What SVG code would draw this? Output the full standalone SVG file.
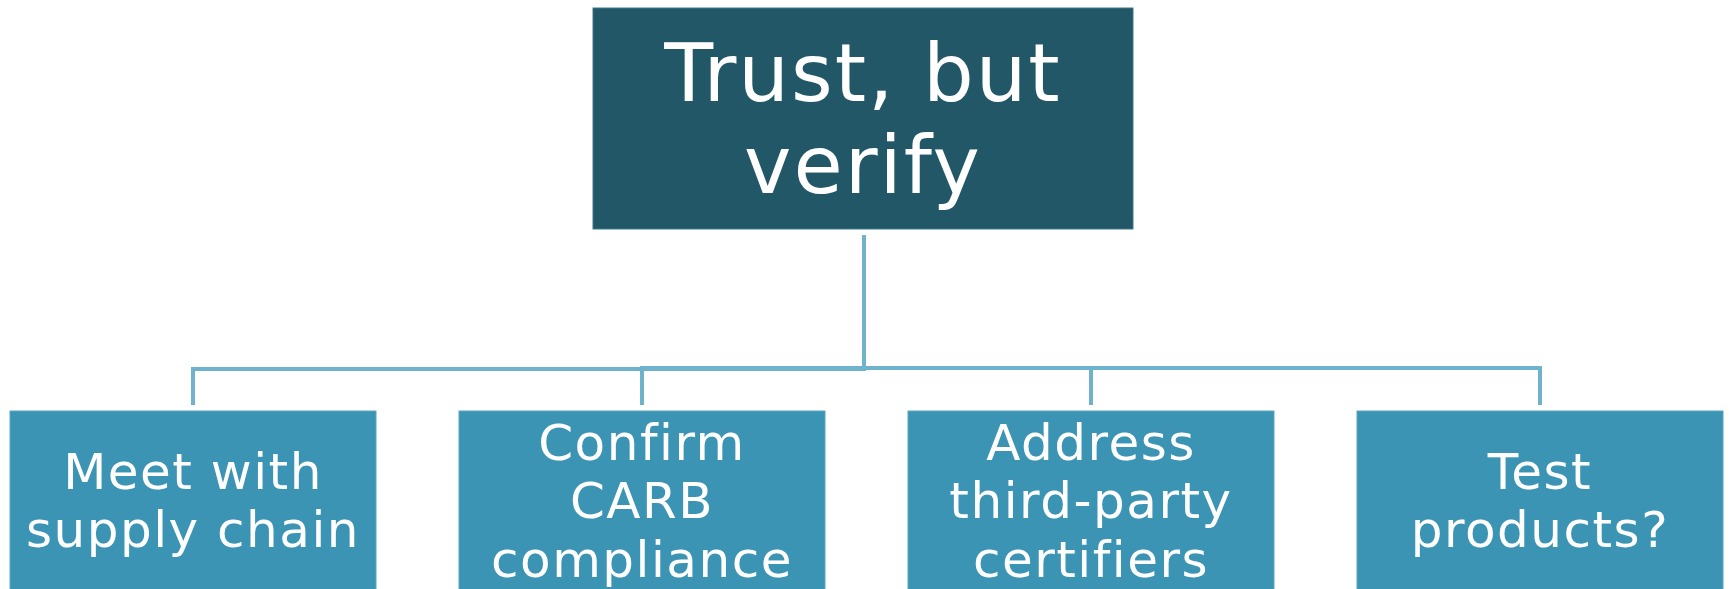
<svg xmlns="http://www.w3.org/2000/svg" width="1729" height="589" viewBox="0 0 1729 589">
  <style>
    .root { fill: #215767; stroke: #3d7a8a; stroke-width: 1; }
    .child { fill: #3b94b3; stroke: #5aa7c2; stroke-width: 1; }
    text { font-variant-ligatures: none; fill: #ffffff; text-anchor: middle; font-family: "DejaVu Sans", "Liberation Sans", sans-serif; }
    .t-root { font-size: 80px; letter-spacing: 2px; }
    .t-child { font-size: 50px; letter-spacing: 1.5px; }
    .link { fill: none; stroke: #6fb2cb; stroke-width: 4; }
  </style>

  <!-- connectors: elbows from the top box down to each child -->
  <g id="connectors">
    <path class="link" d="M864 235 V369 H193 V405"/>
    <path class="link" d="M864 235 V368 H642 V405"/>
    <path class="link" d="M864 235 V368 H1091 V405"/>
    <path class="link" d="M864 235 V368 H1540 V405"/>
  </g>

  <g id="node-root">
    <rect class="root" x="593" y="8" width="540" height="221"/>
    <text class="t-root" x="863" y="101">Trust, but</text>
    <text class="t-root" x="863" y="193">verify</text>
  </g>

  <g id="node-meet">
    <rect class="child" x="10" y="411" width="366" height="190"/>
    <text class="t-child" x="193" y="489">Meet with</text>
    <text class="t-child" x="193" y="547">supply chain</text>
  </g>

  <g id="node-confirm">
    <rect class="child" x="459" y="411" width="366" height="190"/>
    <text class="t-child" x="642" y="460">Confirm</text>
    <text class="t-child" x="642" y="518">CARB</text>
    <text class="t-child" x="642" y="577">compliance</text>
  </g>

  <g id="node-address">
    <rect class="child" x="908" y="411" width="366" height="190"/>
    <text class="t-child" x="1091" y="460">Address</text>
    <text class="t-child" x="1091" y="518">third-party</text>
    <text class="t-child" x="1091" y="577">certifiers</text>
  </g>

  <g id="node-test">
    <rect class="child" x="1357" y="411" width="366" height="190"/>
    <text class="t-child" x="1540" y="489">Test</text>
    <text class="t-child" x="1540" y="547">products?</text>
  </g>
</svg>
